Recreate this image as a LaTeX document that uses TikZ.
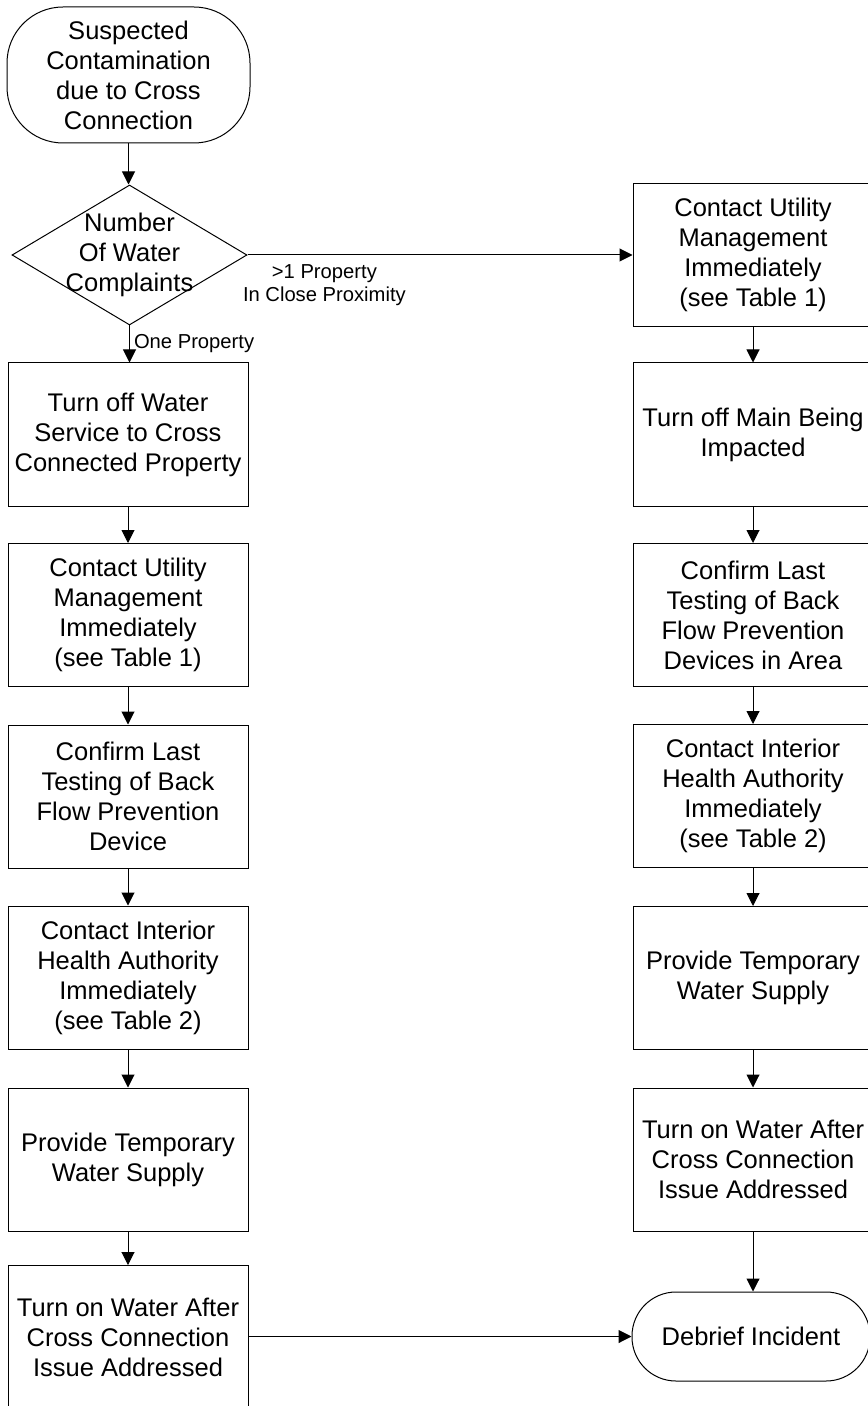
\documentclass[tikz,border=0pt]{standalone}
\usepackage{fontspec}
\setmainfont{Liberation Sans}
\usetikzlibrary{shapes}
\usetikzlibrary{shapes.geometric}
\usetikzlibrary{arrows.meta}
\tikzset{
  stepbox/.style={draw, line width=0.5pt, minimum width=120pt, minimum height=71.5pt,
    inner sep=0pt, align=center, font=\fontsize{12.75}{15}\selectfont},
  terminal/.style={stepbox, rounded corners=#1},
  decision/.style={draw, diamond, line width=0.5pt, minimum width=117.5pt,
    minimum height=70pt, inner sep=0pt},
  flow/.style={line width=0.5pt, -{Triangle[length=6.5pt, width=6.5pt]}},
  branch/.style={font=\fontsize{10.1}{11.5}\selectfont, align=center, inner sep=0pt}
}
\begin{document}
\begin{tikzpicture}[x=0.5pt, y=-0.5pt]
  \useasboundingbox (0,0) rectangle (867,1406);
  \node[terminal=28pt, minimum width=121.5pt, minimum height=68pt] (start) at (128.5,75)
    {Suspected\\Contamination\\due to Cross\\Connection};
  \node[decision, label={[align=center, font=\fontsize{12.75}{15}\selectfont]center:Number\\Of Water\\Complaints}] (complaints) at (129.5,255) {};
  \node[stepbox] (l1) at (128,434.5) {Turn off Water\\Service to Cross\\Connected Property};
  \node[stepbox] (l2) at (128,615) {Contact Utility\\Management\\Immediately\\(see Table 1)};
  \node[stepbox] (l3) at (128,796.5) {Confirm Last\\Testing of Back\\Flow Prevention\\Device};
  \node[stepbox] (l4) at (128,977.5) {Contact Interior\\Health Authority\\Immediately\\(see Table 2)};
  \node[stepbox] (l5) at (128,1159.5) {Provide Temporary\\Water Supply};
  \node[stepbox] (l6) at (128,1337) {Turn on Water After\\Cross Connection\\Issue Addressed};
  \node[stepbox] (r1) at (753,255) {Contact Utility\\Management\\Immediately\\(see Table 1)};
  \node[stepbox] (r2) at (753,434.5) {Turn off Main Being\\Impacted};
  \node[stepbox] (r3) at (753,615) {Confirm Last\\Testing of Back\\Flow Prevention\\Devices in Area};
  \node[stepbox] (r4) at (753,796) {Contact Interior\\Health Authority\\Immediately\\(see Table 2)};
  \node[stepbox] (r5) at (753,978) {Provide Temporary\\Water Supply};
  \node[stepbox] (r6) at (753,1159.5) {Turn on Water After\\Cross Connection\\Issue Addressed};
  \node[terminal=22pt, minimum width=119pt, minimum height=44.5pt] (debrief) at (751,1336.5)
    {Debrief Incident};
  \draw[flow] (start) -- (start |- complaints.north);
  \draw[flow] (complaints.south) -- node[branch, anchor=west, xshift=2pt] {One Property} (complaints.south |- l1.north);
  \draw[flow] (complaints.east) -- node[branch, pos=0, anchor=north west, xshift=-2.5pt, yshift=-4.5pt]
    {>1 Property\\In Close Proximity} (r1.west |- complaints.east);
  \foreach \a/\b in {l1/l2, l2/l3, l3/l4, l4/l5, l5/l6, r1/r2, r2/r3, r3/r4, r4/r5, r5/r6}
    \draw[flow] (\a) -- (\b);
  \draw[flow] (r6) -- (r6 |- debrief.north);
  \draw[flow] (l6.east |- debrief.west) -- (debrief.west);
\end{tikzpicture}
\end{document}
